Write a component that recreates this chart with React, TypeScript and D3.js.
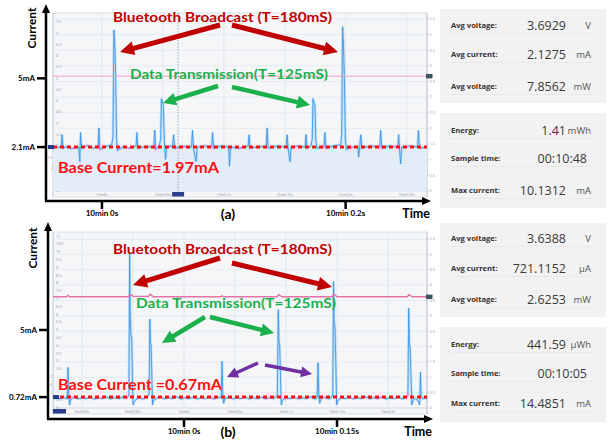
import React from "react";
import * as d3 from "d3";

// ---------------- Panel (a) data ----------------
const timeA = [-0.0402,-0.036,-0.0335,-0.0327,-0.032,-0.029,-0.025,-0.019,-0.0182,-0.0176,-0.0168,-0.012,-0.007,-0.0032,-0.0025,-0.0018,0.003,0.008,0.009,0.0098,0.0105,0.0112,0.012,0.0128,0.017,0.023,0.028,0.0287,0.0294,0.036,0.0425,0.0433,0.0441,0.047,0.0482,0.0488,0.0496,0.0504,0.0512,0.0522,0.053,0.058,0.0588,0.0596,0.066,0.0735,0.0743,0.0751,0.0772,0.0782,0.085,0.09,0.0908,0.0916,0.098,0.104,0.1047,0.1055,0.113,0.12,0.1208,0.1216,0.129,0.1348,0.1356,0.1364,0.144,0.1512,0.152,0.1528,0.1544,0.1552,0.161,0.1668,0.1675,0.1683,0.1715,0.1726,0.1732,0.174,0.1748,0.1756,0.1765,0.1822,0.183,0.1838,0.19,0.196,0.1968,0.1975,0.1982,0.199,0.1998,0.2006,0.206,0.21,0.2107,0.2115,0.2125,0.2133,0.22,0.228,0.2288,0.2296,0.236,0.2428,0.2435,0.2442,0.2452,0.246,0.253,0.259,0.2598,0.2606,0.2668];
const currentA = [1.95,1.92,2.0,2.5,1.9,1.98,1.88,1.95,1.3,2.6,1.9,2.02,1.9,2.0,2.8,1.85,1.97,2.05,2.4,7.15,6.6,5.2,2.3,1.8,1.95,1.9,2.0,2.6,1.9,1.98,1.95,2.7,1.85,2.0,2.3,4.1,3.95,3.8,2.2,1.4,1.95,2.0,2.5,1.9,1.98,1.95,2.7,1.9,1.3,1.95,2.0,1.95,2.6,1.9,2.0,1.95,1.1,1.95,1.9,2.0,2.5,1.9,1.98,1.95,2.8,1.9,2.0,1.95,2.5,1.9,1.3,1.95,2.0,1.95,2.5,1.9,2.0,2.3,4.1,3.95,3.8,2.2,1.9,1.95,2.6,1.9,2.0,2.05,2.5,7.3,6.6,5.0,2.3,1.85,1.95,1.98,1.5,1.95,2.5,1.9,2.0,1.95,2.7,1.9,2.0,1.95,2.5,1.9,1.2,1.95,2.0,1.95,2.7,1.9,1.95];
const voltTimeA = [-0.0402, 0.2668];
const voltA = [3.67, 3.67];
const baseA = 1.95;
const xTickTimesA = [0, 0.05, 0.1, 0.15, 0.2, 0.25];
const xTickLabelsA = ["10m0s", "10m0.05s", "10m0.1s", "10m0.15s", "10m0.2s", "10m0.25s"];
const outerYValsA = [5, 1.95];
const outerYLabelsA = ["5mA", "2.1mA"];
const outerXValsA = [0, 0.2];
const outerXLabelsA = ["10min 0s", "10min 0.2s"];
const statLabels1 = ["Avg voltage:", "Avg current:", "Avg voltage:"];
const statLabels2 = ["Energy:", "Sample time:", "Max current:"];
const statValsA1 = ["3.6929", "2.1275", "7.8562"];
const statUnitsA1 = ["V", "mA", "mW"];
const statValsA2 = ["1.41", "00:10:48", "10.1312"];
const statUnitsA2 = ["mWh", "", "mA"];

// ---------------- Panel (b) data ----------------
const timeB = [-0.1284,-0.125,-0.1215,-0.118,-0.115,-0.114,-0.1137,-0.113,-0.1122,-0.111,-0.108,-0.104,-0.1,-0.096,-0.092,-0.088,-0.084,-0.08,-0.076,-0.072,-0.068,-0.064,-0.06,-0.056,-0.054,-0.0533,-0.0527,-0.052,-0.0512,-0.0505,-0.0498,-0.0488,-0.047,-0.044,-0.04,-0.036,-0.0342,-0.0335,-0.0329,-0.0322,-0.0315,-0.0308,-0.0298,-0.027,-0.023,-0.019,-0.015,-0.011,-0.007,-0.003,0.001,0.005,0.009,0.013,0.017,0.021,0.025,0.029,0.033,0.0365,0.0373,0.038,0.0388,0.04,0.044,0.048,0.052,0.056,0.06,0.064,0.068,0.072,0.076,0.08,0.084,0.088,0.0915,0.0924,0.0931,0.0938,0.0946,0.0954,0.0965,0.1,0.104,0.108,0.112,0.116,0.12,0.124,0.128,0.1305,0.1314,0.1322,0.133,0.1345,0.138,0.142,0.1458,0.1466,0.1472,0.148,0.1488,0.1496,0.1508,0.154,0.158,0.162,0.166,0.17,0.174,0.178,0.182,0.186,0.19,0.194,0.198,0.202,0.206,0.21,0.214,0.218,0.2195,0.2203,0.221,0.2217,0.2225,0.2233,0.2245,0.227,0.23,0.231,0.2318,0.2325,0.234,0.2382];
const currentB = [0.62,0.68,0.58,0.66,0.6,1.2,2.6,0.9,0.2,0.55,0.7,0.58,0.66,0.6,0.72,0.57,0.65,0.6,0.7,0.58,0.66,0.6,0.7,0.62,0.8,10.0,6.0,4.7,4.4,1.5,0.2,0.4,0.55,0.65,0.58,0.7,0.9,5.7,4.2,4.0,2.0,0.2,0.5,0.62,0.7,0.58,0.66,0.6,0.72,0.57,0.65,0.6,0.7,0.58,0.66,0.6,0.72,0.58,0.66,0.7,3.0,0.9,0.3,0.6,0.68,0.58,0.66,0.6,0.72,0.57,0.65,0.6,0.7,0.58,0.66,0.6,0.8,6.3,4.3,4.0,2.0,0.2,0.5,0.65,0.6,0.7,0.58,0.66,0.6,0.72,0.58,0.65,2.9,0.8,0.3,0.6,0.68,0.58,0.75,8.1,5.5,5.2,3.0,0.2,0.5,0.65,0.6,0.7,0.58,0.66,0.6,0.72,0.58,0.66,0.6,0.7,0.58,0.66,0.6,0.72,0.58,0.66,0.8,6.4,4.1,3.9,2.0,0.2,0.5,0.62,0.4,0.2,2.3,0.8,0.6,0.62];
const voltTimeB = [-0.1284,-0.115,-0.1137,-0.112,-0.055,-0.0525,-0.05,-0.035,-0.033,-0.03,0.036,0.0373,0.039,0.091,0.093,0.096,0.145,0.147,0.15,0.219,0.2205,0.224,0.2382];
const voltB = [3.62,3.62,3.67,3.62,3.62,3.7,3.64,3.63,3.7,3.62,3.62,3.65,3.62,3.62,3.69,3.62,3.62,3.71,3.62,3.62,3.69,3.62,3.62];
const baseB = 0.7;
const xTickTimesB = [-0.1, -0.05, 0, 0.05, 0.1, 0.15, 0.2];
const xTickLabelsB = ["9m59.9s", "9m59.95s", "10m0s", "10m0.05s", "10m0.1s", "10m0.15s", "10m0.2s"];
const outerYValsB = [5, 0.7];
const outerYLabelsB = ["5mA", "0.72mA"];
const outerXValsB = [0, 0.15];
const outerXLabelsB = ["10min 0s", "10min 0.15s"];
const statValsB1 = ["3.6388", "721.1152", "2.6253"];
const statUnitsB1 = ["V", "µA", "mW"];
const statValsB2 = ["441.59", "00:10:05", "14.4851"];
const statUnitsB2 = ["µWh", "", "mA"];

const DARK_RED = "#c00000";
const GREEN = "#1cb04c";
const PURPLE = "#7030a0";
const RED = "#ff1010";
const LBL = "Lato, 'Liberation Sans', sans-serif";
const OS = "'Open Sans', sans-serif";

function arrowPts(x1: number, y1: number, x2: number, y2: number, w: number, hw: number, hl: number) {
  const dx = x2 - x1, dy = y2 - y1, L = Math.hypot(dx, dy);
  const ux = dx / L, uy = dy / L, px = -uy, py = ux;
  const bx = x2 - ux * hl, by = y2 - uy * hl;
  const pts = [
    [x1 + px * w / 2, y1 + py * w / 2],
    [bx + px * w / 2, by + py * w / 2],
    [bx + px * hw / 2, by + py * hw / 2],
    [x2, y2],
    [bx - px * hw / 2, by - py * hw / 2],
    [bx - px * w / 2, by - py * w / 2],
    [x1 - px * w / 2, y1 - py * w / 2],
  ];
  return pts.map((p) => p.join(",")).join(" ");
}

function Panel({ c }: { c: any }) {
  const x = d3.scaleLinear().domain(c.tDomain).range([c.px0, c.px1]);
  const y = d3.scaleLinear().domain([0, c.yMax]).range([c.py1, c.py0]);
  const yv = d3.scaleLinear().domain([0, c.vMax]).range([c.py1, c.py0]);
  const pts = c.time.map((t: number, i: number) => [t, c.current[i]]);
  const vpts = c.vTime.map((t: number, i: number) => [t, c.volt[i]]);
  const line = d3.line<any>().x((d) => x(d[0])).y((d) => y(d[1]));
  const area = d3.area<any>().x((d) => x(d[0])).y0(c.py1).y1((d) => y(d[1]));
  const vline = d3.line<any>().x((d) => x(d[0])).y((d) => yv(d[1]));
  const leftTicks = d3.range(0, c.yMax + 0.001, 0.5).filter((v) => y(v) >= c.py0 + 3);
  // labels lying under the big "Base Current" caption sit just outside the plot edge
  const underCaption = (v: number) => y(v) > c.bcY - 19 && y(v) < c.bcY + 5;
  const rightTicks = d3.range(0, 5.51, 0.5);
  const clipId = "clip" + c.id;
  return (
    <g>
      <defs>
        <clipPath id={clipId}>
          <rect x={c.px0} y={c.py0} width={c.px1 - c.px0} height={c.py1 - c.py0} />
        </clipPath>
      </defs>
      <rect x={c.px0} y={c.py0} width={c.px1 - c.px0} height={c.py1 - c.py0 + 6} fill="#f4f6f8" stroke="#d3d8de" strokeWidth={0.8} />
      {rightTicks.map((v) => (
        <line key={"hg" + v} x1={c.px0} x2={c.px1} y1={yv(v)} y2={yv(v)} stroke="#e2e6eb" strokeWidth={0.7} />
      ))}
      {c.xTickTimes.map((t: number) => (
        <line key={"vg" + t} x1={x(t)} x2={x(t)} y1={c.py0} y2={c.py1} stroke="#e0e4e9" strokeWidth={0.8} />
      ))}
      <line x1={c.px1} x2={c.px1} y1={c.py0} y2={c.py1 + 6} stroke="#b9c1ca" strokeWidth={0.8} />
      <line x1={c.px0} x2={c.px0} y1={c.py0} y2={c.py1 + 6} stroke="#b9cde2" strokeWidth={0.8} />
      <line x1={c.px0} x2={c.px1} y1={c.py1} y2={c.py1} stroke="#c9d3dd" strokeWidth={0.6} />
      {leftTicks.map((v) => (
        underCaption(v) ? (
          <text key={"lt" + v} x={c.px0 - 0.8} y={y(v) + 1.3} fontSize={3.6} fill="#8a8f96" textAnchor="end" fontFamily={OS}>{String(v)}</text>
        ) : (
          <text key={"lt" + v} x={c.px0 + 3} y={y(v) + 1.3} fontSize={3.8} fill="#8a8f96" fontFamily={OS}>{String(v)}</text>
        )
      ))}
      {rightTicks.map((v) => (
        <g key={"rt" + v}>
          <line x1={c.px1} x2={c.px1 + 1.5} y1={yv(v)} y2={yv(v)} stroke="#9aa3ad" strokeWidth={0.5} />
          <text x={c.px1 + 2.5} y={yv(v) + 1.3} fontSize={3.8} fill="#8a8f96" fontFamily={OS}>{String(v)}</text>
        </g>
      ))}
      {c.xTickTimes.map((t: number, i: number) => (
        <text key={"xt" + t} x={x(t)} y={c.py1 + 4.5} fontSize={3.6} fill="#8a8f96" textAnchor="middle" fontFamily={OS}>{c.xTickLabels[i]}</text>
      ))}
      <g clipPath={`url(#${clipId})`}>
        {c.fill && <path d={area(pts) || ""} fill="#e3edf8" />}
        <path d={line(pts) || ""} fill="none" stroke="#a9d0f4" strokeWidth={2.6} strokeOpacity={0.6} />
        <path d={line(pts) || ""} fill="none" stroke="#3d97e6" strokeWidth={0.9} />
        <path d={vline(vpts) || ""} fill="none" stroke={c.voltColor} strokeWidth={c.voltWidth} />
        {c.cursor !== undefined && (
          <line x1={x(c.cursor)} x2={x(c.cursor)} y1={c.py0} y2={c.py1} stroke="#8a93a0" strokeWidth={0.8} strokeDasharray="1.5,1.5" />
        )}
        <line x1={c.px0} x2={c.px1} y1={y(c.base)} y2={y(c.base)} stroke={RED} strokeWidth={3} strokeDasharray="4,3" />
      </g>
      {c.cursor !== undefined && (
        <rect x={x(c.cursor) - 6} y={c.py1 + 1} width={12} height={4.5} fill="#2b3d8f" />
      )}
      {c.cornerTag && <rect x={c.px0} y={c.py1 + 1} width={13} height={4.5} fill="#2b3d8f" />}
      <rect x={c.px0 - (c.id === "a" ? 5 : 0)} y={y(c.base) - 2} width={6} height={4} fill="#243a8c" />
      <rect x={c.px1 - 1} y={yv(c.volt[0]) - 2.2} width={6.5} height={4.4} fill="#3c5660" />

      <line x1={c.ax} x2={c.ax} y1={c.ay} y2={c.aTop + 8} stroke="#000" strokeWidth={2.5} />
      <polygon points={`${c.ax},${c.aTop} ${c.ax - 4},${c.aTop + 9} ${c.ax + 4},${c.aTop + 9}`} fill="#000" />
      <line x1={c.ax - 1} x2={c.aRight - 8} y1={c.ay} y2={c.ay} stroke="#000" strokeWidth={2.5} />
      <polygon points={`${c.aRight},${c.ay} ${c.aRight - 9},${c.ay - 4} ${c.aRight - 9},${c.ay + 4}`} fill="#000" />
      {c.outerYVals.map((v: number, i: number) => (
        <g key={"oy" + i}>
          <line x1={c.ax - 9} x2={c.ax} y1={y(v)} y2={y(v)} stroke="#000" strokeWidth={2.5} />
          <text x={c.ax - 11} y={y(v) + 3} fontSize={8} fontWeight={700} textAnchor="end" fontFamily={LBL}>{c.outerYLabels[i]}</text>
        </g>
      ))}
      {c.outerXVals.map((t: number, i: number) => (
        <g key={"ox" + i}>
          <line x1={x(t)} x2={x(t)} y1={c.ay} y2={c.ay + 8} stroke="#000" strokeWidth={2.5} />
          <text x={x(t)} y={c.ay + 15} fontSize={8} fontWeight={700} textAnchor="middle" fontFamily={LBL}>{c.outerXLabels[i]}</text>
        </g>
      ))}
      <text transform={`translate(${c.curX},${c.curY}) rotate(-90)`} fontSize={12} fontWeight={700} textAnchor="middle" fontFamily={LBL}>Current</text>
      <text x={228} y={c.ay + 18} fontSize={14} fontWeight={700} textAnchor="middle" fontFamily={LBL}>{c.tag}</text>
      <text x={c.aRight - 1} y={c.ay + 17} fontSize={12.5} fontWeight={700} textAnchor="end" fontFamily={LBL}>Time</text>

      <text x={113} y={c.btY} fontSize={14} fontWeight={700} fill={DARK_RED} fontFamily={LBL} textLength={219} lengthAdjust="spacingAndGlyphs">Bluetooth Broadcast (T=180mS)</text>
      <text x={c.dtX0} y={c.dtY} fontSize={14} fontWeight={700} fill={GREEN} fontFamily={LBL} textLength={c.dtW} lengthAdjust="spacingAndGlyphs">Data Transmission(T=125mS)</text>
      <text x={58} y={c.bcY} fontSize={16} fontWeight={700} fill={RED} fontFamily={LBL} textLength={c.bcW} lengthAdjust="spacingAndGlyphs">{c.baseText}</text>
      {c.arrows.map((a: any, i: number) => (
        <polygon key={"ar" + i} points={arrowPts(a[0], a[1], a[2], a[3], a[5], a[6], a[7])} fill={a[4]} />
      ))}
    </g>
  );
}

function Stats({ y1, y2, vals1, units1, vals2, units2, rows1, rows2 }: any) {
  const bx = 440, bw = 166;
  const box = (top: number, h: number, labels: string[], vals: string[], units: string[], rows: number[], key: string) => (
    <g key={key}>
      <rect x={bx} y={top} width={bw} height={h} fill="#f2f2f2" />
      {rows.map((ry: number, i: number) => (
        <g key={key + i}>
          <text x={451} y={ry + 3} fontSize={7.6} fontWeight={700} fill="#333" fontFamily={OS}>{labels[i]}</text>
          <text x={units[i] ? 566 : 587} y={ry + 4.5} fontSize={12.5} fill="#3a3a3a" textAnchor="end" fontFamily={OS}>{vals[i]}</text>
          {units[i] && (
            <text x={591} y={ry + 4} fontSize={9.5} fill="#555" textAnchor="end" fontFamily={OS}>{units[i]}</text>
          )}
          <line x1={451} x2={592} y1={ry + 8.5} y2={ry + 8.5} stroke="#e4e4e4" strokeWidth={0.8} />
        </g>
      ))}
    </g>
  );
  return (
    <g>
      {box(y1[0], y1[1], statLabels1, vals1, units1, rows1, "b1")}
      {box(y2[0], y2[1], statLabels2, vals2, units2, rows2, "b2")}
    </g>
  );
}

export default function App() {
  const cA = {
    id: "a", tag: "(a)",
    tDomain: [-0.0402, 0.2668], px0: 53, px1: 427, py0: 13, py1: 191,
    yMax: 7.9, vMax: 5.69,
    time: timeA, current: currentA, vTime: voltTimeA, volt: voltA, base: baseA,
    voltColor: "#f2a2c4", voltWidth: 1,
    xTickTimes: xTickTimesA, xTickLabels: xTickLabelsA,
    outerYVals: outerYValsA, outerYLabels: outerYLabelsA,
    outerXVals: outerXValsA, outerXLabels: outerXLabelsA,
    fill: true, cursor: 0.0625, cornerTag: false,
    ax: 46, ay: 201, aTop: 4, aRight: 431, curX: 36, curY: 28,
    btY: 22, dtX0: 130, dtY: 79, dtW: 198, bcY: 173, bcW: 161, baseText: "Base Current=1.97mA",
    arrows: [
      [220, 25, 120, 52, DARK_RED, 5, 14, 14],
      [232, 25, 338, 52, DARK_RED, 5, 14, 14],
      [218, 86, 163, 103, GREEN, 4.5, 13, 13],
      [232, 87, 310, 105, GREEN, 4.5, 13, 13],
    ],
  };
  const cB = {
    id: "b", tag: "(b)",
    tDomain: [-0.1284, 0.2382], px0: 53, px1: 427, py0: 232, py1: 408,
    yMax: 11.28, vMax: 5.73,
    time: timeB, current: currentB, vTime: voltTimeB, volt: voltB, base: baseB,
    voltColor: "#e474a6", voltWidth: 1.5,
    xTickTimes: xTickTimesB, xTickLabels: xTickLabelsB,
    outerYVals: outerYValsB, outerYLabels: outerYLabelsB,
    outerXVals: outerXValsB, outerXLabels: outerXLabelsB,
    fill: false, cursor: undefined, cornerTag: true,
    ax: 48, ay: 419, aTop: 222, aRight: 433, curX: 37, curY: 248,
    btY: 254, dtX0: 136, dtY: 308, dtW: 200, bcY: 390, bcW: 164, baseText: "Base Current =0.67mA",
    arrows: [
      [220, 258, 133, 285, DARK_RED, 5, 14, 14],
      [232, 263, 332, 287, DARK_RED, 5, 14, 14],
      [205, 317, 162, 343, GREEN, 4.5, 13, 13],
      [210, 317, 274, 333, GREEN, 4.5, 13, 13],
      [258, 363, 227, 377, PURPLE, 3.5, 11, 11],
      [265, 365, 312, 374, PURPLE, 3.5, 11, 11],
    ],
  };
  return (
    <svg width={611} height={441} style={{ position: "absolute", left: 0, top: 0, background: "#fff" }}>
      <rect width={611} height={441} fill="#fff" />
      <Panel c={cA} />
      <Panel c={cB} />
      <Stats y1={[9, 94]} y2={[113, 95]} vals1={statValsA1} units1={statUnitsA1} vals2={statValsA2} units2={statUnitsA2}
        rows1={[25, 54, 86]} rows2={[130, 158, 190]} />
      <Stats y1={[223, 94]} y2={[327, 95]} vals1={statValsB1} units1={statUnitsB1} vals2={statValsB2} units2={statUnitsB2}
        rows1={[238, 268, 299]} rows2={[344, 373, 403]} />
    </svg>
  );
}
